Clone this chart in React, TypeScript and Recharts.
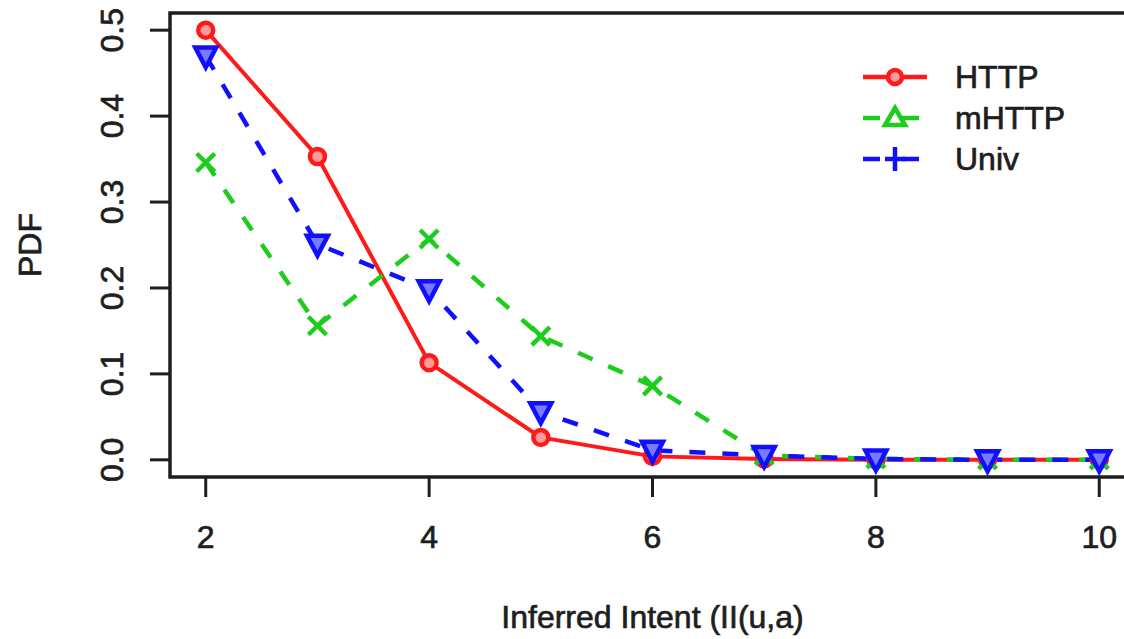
import React from 'react';
import { LineChart, Line, XAxis, YAxis, ReferenceArea } from 'recharts';

const xValues = [2, 3, 4, 5, 6, 7, 8, 9, 10];
const httpValues = [0.5, 0.353, 0.113, 0.026, 0.004, 0.001, 0, 0, 0];
const mhttpValues = [0.346, 0.156, 0.257, 0.144, 0.086, 0.005, 0.001, 0, 0];
const univValues = [0.47, 0.251, 0.198, 0.056, 0.011, 0.005, 0.001, 0, 0];
const xTicks = [2, 4, 6, 8, 10];
const yTicks = [0, 0.1, 0.2, 0.3, 0.4, 0.5];
const yTickLabels = ['0.0', '0.1', '0.2', '0.3', '0.4', '0.5'];
const seriesNames = ['HTTP', 'mHTTP', 'Univ'];

const rows = xValues.map((x, i) => ({
  x,
  HTTP: httpValues[i],
  mHTTP: mhttpValues[i],
  Univ: univValues[i],
}));

const RED = '#ff1a1a';
const GREEN = '#1ccd1c';
const BLUE = '#1010ff';
const INK = '#1e1e1e';
const FONT = '"Liberation Sans", Arial, Helvetica, sans-serif';
const FS = 32;
const TEXT_STROKE = 0.7;

const XTick = (props: any) => {
  const { x, y, payload } = props;
  return (
    <text x={x} y={y + 49} textAnchor="middle" fontFamily={FONT} fontSize={FS} fill={INK}
      stroke={INK} strokeWidth={TEXT_STROKE}>
      {String(payload.value)}
    </text>
  );
};

const YTick = (props: any) => {
  const { x, y, payload } = props;
  const idx = yTicks.indexOf(payload.value);
  const label = idx >= 0 ? yTickLabels[idx] : String(payload.value);
  const bx = x - 25;
  return (
    <text x={bx} y={y} textAnchor="middle" fontFamily={FONT} fontSize={FS} fill={INK}
      stroke={INK} strokeWidth={TEXT_STROKE}
      transform={`rotate(-90, ${bx}, ${y})`}>
      {label}
    </text>
  );
};

const CircleDot = (props: any) => {
  const { cx, cy, index } = props;
  if (cx == null || cy == null) return <g key={`c${index}`} />;
  return <circle key={`c${index}`} cx={cx} cy={cy} r={7.5} stroke={RED} strokeWidth={4.5} fill="#ff9a9a" />;
};

const CrossDot = (props: any) => {
  const { cx, cy, index } = props;
  if (cx == null || cy == null) return <g key={`x${index}`} />;
  const s = 9;
  return (
    <g key={`x${index}`} stroke={GREEN} strokeWidth={4.5} strokeLinecap="butt">
      <line x1={cx - s} y1={cy - s} x2={cx + s} y2={cy + s} />
      <line x1={cx - s} y1={cy + s} x2={cx + s} y2={cy - s} />
    </g>
  );
};

const TriDownDot = (props: any) => {
  const { cx, cy, index } = props;
  if (cx == null || cy == null) return <g key={`t${index}`} />;
  const w = 10.5;
  const h = 8.5;
  return (
    <polygon key={`t${index}`}
      points={`${cx - w},${cy - h} ${cx + w},${cy - h} ${cx},${cy + h + 3}`}
      stroke={BLUE} strokeWidth={4.5} fill="#7a7aff" strokeLinejoin="miter" />
  );
};

const LegendBox = () => {
  const rowGap = 41;
  return (
    <svg width={260} height={130} style={{ position: 'absolute', left: 853, top: 55, overflow: 'visible' }}>
      {seriesNames.map((name, i) => {
        const y = 22 + i * rowGap;
        let marker: any = null;
        let line: any = null;
        if (i === 0) {
          line = <line x1={10} y1={y} x2={74} y2={y} stroke={RED} strokeWidth={4.5} />;
          marker = <circle cx={42} cy={y} r={7} stroke={RED} strokeWidth={4.5} fill="#ff9a9a" />;
        } else if (i === 1) {
          line = <line x1={10} y1={y} x2={66} y2={y} stroke={GREEN} strokeWidth={4.5} strokeDasharray="17 22" />;
          marker = <polygon points={`${42 - 10},${y + 7} ${42 + 10},${y + 7} ${42},${y - 10}`} stroke={GREEN} strokeWidth={4.5} fill="none" />;
        } else {
          line = <line x1={10} y1={y} x2={66} y2={y} stroke={BLUE} strokeWidth={4.5} strokeDasharray="17 22" />;
          marker = (
            <g stroke={BLUE} strokeWidth={4.5}>
              <line x1={32} y1={y} x2={52} y2={y} />
              <line x1={42} y1={y - 12} x2={42} y2={y + 12} />
            </g>
          );
        }
        return (
          <g key={name}>
            {line}
            {marker}
            <text x={102} y={y + 11} fontFamily={FONT} fontSize={FS} fill={INK}
              stroke={INK} strokeWidth={TEXT_STROKE}>{name}</text>
          </g>
        );
      })}
    </svg>
  );
};

export default function App() {
  return (
    <div style={{ position: 'absolute', left: 0, top: 0, width: 1124, height: 639, overflow: 'hidden', background: '#fff' }}>
      <LineChart width={1124} height={639} data={rows}
        margin={{ top: 13, right: -11, bottom: 0, left: 0 }}>
        <XAxis dataKey="x" type="number" domain={[1.68, 10.32]} ticks={xTicks} interval={0}
          allowDataOverflow height={162} axisLine={false} tickSize={20}
          tickLine={{ stroke: INK, strokeWidth: 3 }} tick={<XTick />}
          label={(p: any) => {
            const vb = p.viewBox || {};
            const cx = (vb.x ?? 0) + (vb.width ?? 0) / 2;
            return (
              <text x={cx} y={628} textAnchor="middle" fontFamily={FONT} fontSize={FS} fill={INK}
                stroke={INK} strokeWidth={TEXT_STROKE}>
                Inferred Intent (II(u,a)
              </text>
            );
          }} />
        <YAxis type="number" domain={[-0.02, 0.52]} ticks={yTicks} interval={0}
          allowDataOverflow width={170} axisLine={false} tickSize={20}
          tickLine={{ stroke: INK, strokeWidth: 3 }} tick={<YTick />}
          label={(p: any) => {
            const vb = p.viewBox || {};
            const cy = (vb.y ?? 0) + (vb.height ?? 0) / 2;
            return (
              <text x={41} y={cy} textAnchor="middle" fontFamily={FONT} fontSize={FS} fill={INK}
                stroke={INK} strokeWidth={TEXT_STROKE}
                transform={`rotate(-90, 41, ${cy})`}>
                PDF
              </text>
            );
          }} />
        <ReferenceArea x1={1.68} x2={10.32} y1={-0.02} y2={0.52} ifOverflow="visible"
          stroke={INK} strokeWidth={3.5} fill="none" fillOpacity={0} />
        <Line type="linear" dataKey="HTTP" name="HTTP" stroke={RED} strokeWidth={4}
          dot={CircleDot} activeDot={false} isAnimationActive={false} />
        <Line type="linear" dataKey="mHTTP" name="mHTTP" stroke={GREEN} strokeWidth={4.5}
          strokeDasharray="16 17" dot={CrossDot} activeDot={false} isAnimationActive={false} />
        <Line type="linear" dataKey="Univ" name="Univ" stroke={BLUE} strokeWidth={4.5}
          strokeDasharray="16 17" dot={TriDownDot} activeDot={false} isAnimationActive={false} />
      </LineChart>
      <LegendBox />
    </div>
  );
}
